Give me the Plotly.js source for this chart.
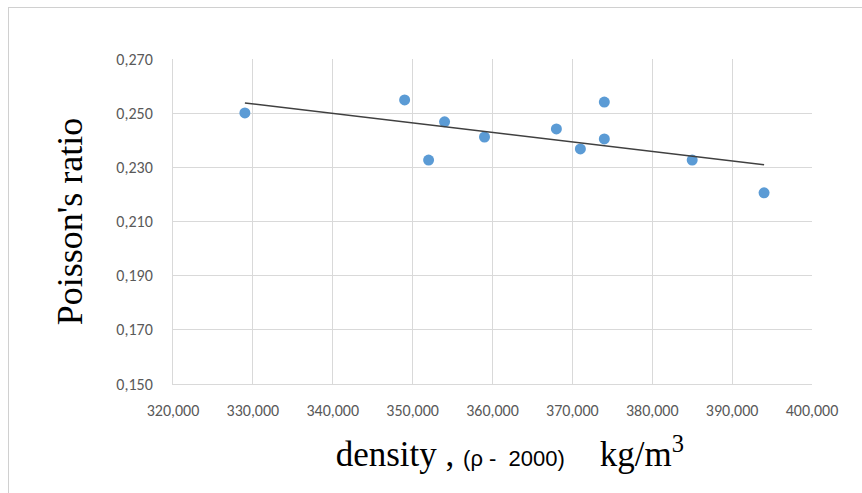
<!DOCTYPE html>
<html>
<head>
<meta charset="utf-8">
<script src="https://cdn.plot.ly/plotly-3.0.1.min.js"></script>
<style>
html,body{margin:0;padding:0;background:#fff;}
#frame{position:absolute;left:8px;top:7px;width:900px;height:600px;border-left:1px solid #d0d0d0;border-top:1px solid #d0d0d0;}
#chart{position:absolute;left:0;top:0;width:862px;height:493px;}
</style>
</head>
<body>
<div id="frame"></div>
<div id="chart"></div>
<script>
// density (ρ - 2000), kg/m3
const density = [329, 349, 352, 354, 359, 368, 371, 374, 374, 385, 394];
// Poisson's ratio
const poisson = [0.2501, 0.2549, 0.2327, 0.2468, 0.2412, 0.2442, 0.2368, 0.2541, 0.2405, 0.2327, 0.2206];
const xTicks = [320, 330, 340, 350, 360, 370, 380, 390, 400];
const yTicks = [0.150, 0.170, 0.190, 0.210, 0.230, 0.250, 0.270];

// linear trendline (least squares) from the data
const n = density.length;
const mx = density.reduce((a, b) => a + b, 0) / n;
const my = poisson.reduce((a, b) => a + b, 0) / n;
let sxy = 0, sxx = 0;
for (let i = 0; i < n; i++) { sxy += (density[i] - mx) * (poisson[i] - my); sxx += (density[i] - mx) ** 2; }
const slope = sxy / sxx, icpt = my - slope * mx;
const xmin = Math.min(...density), xmax = Math.max(...density);
const trendX = [xmin, xmax];
const trendY = trendX.map(x => icpt + slope * x);

const tickFont = {family: 'Carlito, "Liberation Sans", Arial, sans-serif', size: 16, color: '#595959'};

Plotly.newPlot('chart', [
  {x: density, y: poisson, type: 'scatter', mode: 'markers',
   marker: {color: '#5b9bd5', size: 11}, name: 'data', hoverinfo: 'x+y'},
  {x: trendX, y: trendY, type: 'scatter', mode: 'lines',
   line: {color: '#404040', width: 1.5}, name: 'trend'}
], {
  width: 862, height: 493,
  margin: {l: 173, r: 50, t: 59, b: 109},
  paper_bgcolor: 'rgba(0,0,0,0)', plot_bgcolor: '#fff',
  showlegend: false,
  separators: ',.',
  xaxis: {
    range: [320, 400], tickvals: xTicks, tickformat: '.3f',
    showgrid: true, gridcolor: '#d9d9d9', gridwidth: 1,
    showline: true, linecolor: '#d9d9d9', linewidth: 1,
    zeroline: false, ticks: '', tickfont: tickFont, ticklabelstandoff: 12,
    title: {text: '\u2800\u00a0density , <span style="font-family:\'Liberation Sans\',Arial,sans-serif;font-size:22px">(ρ -  2000)</span>\u00a0\u00a0\u00a0\u00a0kg/m<sup>3</sup>',
            font: {family: '"Liberation Serif", "Times New Roman", serif', size: 35, color: '#000'}, standoff: 22}
  },
  yaxis: {
    range: [0.150, 0.270], tickvals: yTicks, tickformat: '.3f',
    showgrid: true, gridcolor: '#d9d9d9', gridwidth: 1,
    showline: true, linecolor: '#d9d9d9', linewidth: 1,
    zeroline: false, ticks: '', tickfont: tickFont, ticklabelstandoff: 16,
    title: {text: "Poisson's ratio",
            font: {family: '"Liberation Serif", "Times New Roman", serif', size: 36, color: '#000'}, standoff: 22}
  }
}, {displayModeBar: false, staticPlot: true});
</script>
</body>
</html>
